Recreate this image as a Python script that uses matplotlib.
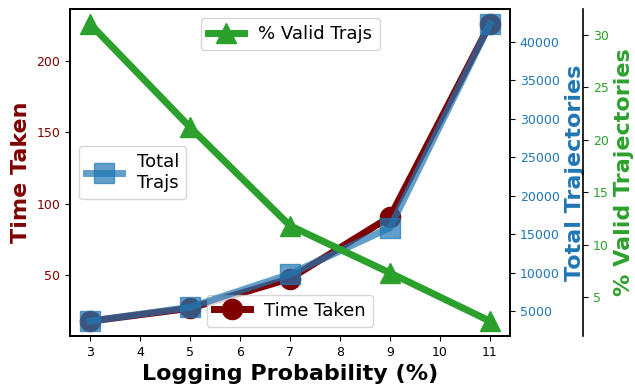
import matplotlib
matplotlib.use("Agg")
import matplotlib.pyplot as plt

log_prob = [3, 5, 7, 9, 11]
time_taken = [17.8, 26.8, 47.6, 90.8, 226.0]
total_trajs = [3700, 5500, 9800, 15850, 42300]
valid_pct = [31.05, 21.2, 11.8, 7.3, 2.7]

c_time = '#800000'
c_total = '#1f77b4'
c_valid = '#2ca02c'

fig = plt.figure(figsize=(6.35, 3.9), dpi=100)
ax = fig.add_axes([70/635, 1-336/390, 440/635, 327/390])
ax2 = ax.twinx()
ax3 = ax.twinx()
ax3.spines['right'].set_position(('axes', 1 + 73/440))

for a in (ax, ax2, ax3):
    for s in a.spines.values():
        s.set_linewidth(1.2)

l1, = ax.plot(log_prob, time_taken, color=c_time, marker='o', lw=5, ms=14.5, label='Time Taken')
l2, = ax2.plot(log_prob, total_trajs, color=c_total, marker='s', lw=5, ms=15, alpha=0.7, label='Total\nTrajs')
l3, = ax3.plot(log_prob, valid_pct, color=c_valid, marker='^', lw=5, ms=15, label='% Valid Trajs')

ax.set_xticks(range(3, 12))
ax.set_xlabel('Logging Probability (%)', fontsize=16, fontweight='bold')
ax.set_ylabel('Time Taken', fontsize=16, fontweight='bold', color=c_time)
ax2.set_ylabel('Total Trajectories', fontsize=16, fontweight='bold', color=c_total)
ax3.set_ylabel('% Valid Trajectories', fontsize=16, fontweight='bold', color=c_valid)

ax.tick_params(axis='x', labelsize=9)
ax.tick_params(axis='y', labelsize=9, labelcolor=c_time)
ax2.tick_params(axis='y', labelsize=9, labelcolor=c_total)
ax3.tick_params(axis='y', labelsize=9, labelcolor=c_valid)
ax2.set_yticks([5000, 10000, 15000, 20000, 25000, 30000, 35000, 40000])
ax3.set_yticks([5, 10, 15, 20, 25, 30])

ax.legend(handles=[l1], loc='lower center', fontsize=13)
ax2.legend(handles=[l2], loc='center left', fontsize=13)
ax3.legend(handles=[l3], loc='upper center', fontsize=13)

fig.savefig('out.png', dpi=100)
